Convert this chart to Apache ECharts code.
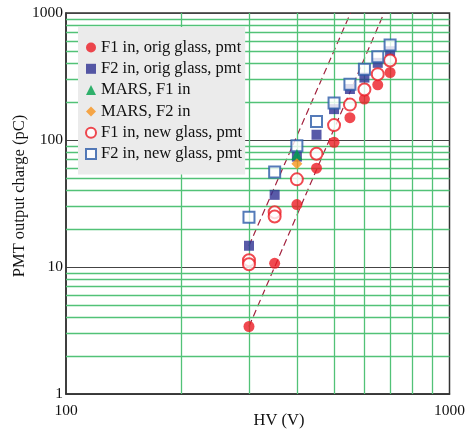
<!DOCTYPE html>
<html>
<head>
<meta charset="utf-8">
<script src="https://cdn.jsdelivr.net/npm/echarts@6/dist/echarts.min.js"></script>
<style>
html,body{margin:0;padding:0;background:#fff;}
#chart{width:468px;height:432px;}
</style>
</head>
<body>
<div id="chart"></div>
<script>
// HV values (V)
var hvOrig = [300, 350, 400, 450, 500, 550, 600, 650, 700];
var f1Orig = [3.4, 10.7, 31, 60, 96, 150, 210, 272, 340];
var f2Orig = [14.7, 37, 74, 110, 175, 252, 310, 405, 500];
var hvMars = [400];
var marsF1 = [77];
var marsF2 = [65];
var hvF1New = [300, 300, 350, 350, 400, 450, 500, 550, 600, 650, 700];
var f1New = [11.3, 10.5, 27, 25, 49, 78, 131, 190, 250, 330, 422];
var hvF2New = [300, 350, 400, 450, 500, 550, 600, 650, 700];
var f2New = [24.6, 56, 90, 140, 196, 275, 360, 452, 560];
// dashed fit lines (end points)
var fit1X = [300, 675];
var fit1Y = [3.4, 1000];
var fit2X = [300, 552];
var fit2Y = [14.7, 1000];
// grid values
var xMinor = [200, 300, 400, 500, 600, 700, 800, 900];
var yMinor = [2,3,4,5,6,7,8,9,20,30,40,50,60,70,80,90,200,300,400,500,600,700,800,900];
var legendNames = ['F1 in, orig glass, pmt', 'F2 in, orig glass, pmt', 'MARS, F1 in', 'MARS, F2 in', 'F1 in, new glass, pmt', 'F2 in, new glass, pmt'];
var xTitle = 'HV (V)';
var yTitle = 'PMT output charge (pC)';

function zip(xs, ys){ return xs.map(function(x,i){ return [x, ys[i]]; }); }

var FONT = '"Liberation Serif", "DejaVu Serif", serif';
var RED = '#ec1c24', BLUE = '#2e3192', GREEN = '#00a14b', ORANGE = '#f7941d', BLUE2 = '#2b5aa8', DASH = '#a3233f', GRIDG = '#52c277';

var minorLines = [];
xMinor.forEach(function(v){ minorLines.push({xAxis: v}); });
yMinor.forEach(function(v){ minorLines.push({yAxis: v}); });

var chart = echarts.init(document.getElementById('chart'), null, {renderer:'canvas'});
chart.setOption({
  animation: false,
  backgroundColor: '#fff',
  textStyle: {fontFamily: FONT},
  grid: {left: 66, top: 13, right: 15, bottom: 38, show: true, borderColor: '#333', borderWidth: 1.5, backgroundColor: 'transparent'},
  legend: {
    orient: 'vertical', left: 78, top: 27, z: 20,
    backgroundColor: '#ebebeb',
    padding: [12, 3, 12, 7],
    itemWidth: 10, itemHeight: 10, itemGap: 4.3,
    textStyle: {fontFamily: FONT, fontSize: 16.5, color: '#111', lineHeight: 17},
    data: legendNames.map(function(n){ return {name: n}; })
  },
  xAxis: {
    type: 'log', logBase: 10, min: 100, max: 1000,
    axisLine: {show: true, lineStyle: {color: '#333', width: 1.5}},
    axisTick: {show: false},
    splitLine: {show: false},
    axisLabel: {fontFamily: FONT, fontSize: 15.5, color: '#111', margin: 9, formatter: function(v){ return String(v); }}
  },
  yAxis: {
    type: 'log', logBase: 10, min: 1, max: 1000,
    axisLine: {show: true, lineStyle: {color: '#333', width: 1.5}},
    axisTick: {show: false},
    splitLine: {show: true, lineStyle: {color: '#444', width: 1.2}},
    axisLabel: {fontFamily: FONT, fontSize: 15.5, color: '#111', margin: 3, formatter: function(v){ return String(v); }}
  },
  graphic: [{
    type: 'text', x: 20, y: 196, rotation: Math.PI/2,
    style: {text: yTitle, font: '16.5px ' + FONT, fill: '#111', align: 'center', verticalAlign: 'middle'}
  }, {
    type: 'text', x: 279, y: 421,
    style: {text: xTitle, font: '16.5px ' + FONT, fill: '#111', align: 'center', verticalAlign: 'middle'}
  }],
  series: [
    {type: 'line', data: [[100,1]], symbol: 'none', silent: true, lineStyle: {opacity: 0}, z: 1,
     markLine: {silent: true, symbol: ['none','none'], label: {show: false},
       lineStyle: {color: GRIDG, type: 'solid', width: 1.3}, data: minorLines}},
    {type: 'line', name: 'fit1', data: zip(fit1X, fit1Y), symbol: 'none', silent: true, z: 3,
     lineStyle: {color: DASH, width: 1.2, type: [7, 4]}},
    {type: 'line', name: 'fit2', data: zip(fit2X, fit2Y), symbol: 'none', silent: true, z: 3,
     lineStyle: {color: DASH, width: 1.2, type: [7, 4]}},
    {type: 'scatter', name: legendNames[0], data: zip(hvOrig, f1Orig), symbol: 'circle', symbolSize: 11, z: 5,
     itemStyle: {color: RED}},
    {type: 'scatter', name: legendNames[1], data: zip(hvOrig, f2Orig), symbol: 'rect', symbolSize: 10, z: 5,
     itemStyle: {color: BLUE}},
    {type: 'scatter', name: legendNames[4], data: zip(hvF1New, f1New), symbol: 'emptyCircle', symbolSize: 12, z: 6,
     itemStyle: {color: RED, borderColor: RED, borderWidth: 1.5}},
    {type: 'scatter', name: legendNames[5], data: zip(hvF2New, f2New), symbol: 'emptyRect', symbolSize: 11, z: 6,
     itemStyle: {color: BLUE2, borderColor: BLUE2, borderWidth: 1.5}},
    {type: 'scatter', name: legendNames[2], data: zip(hvMars, marsF1), symbol: 'triangle', symbolSize: 11, z: 7,
     itemStyle: {color: GREEN}},
    {type: 'scatter', name: legendNames[3], data: zip(hvMars, marsF2), symbol: 'diamond', symbolSize: 11, z: 7,
     itemStyle: {color: ORANGE}}
  ]
});
</script>
</body>
</html>
